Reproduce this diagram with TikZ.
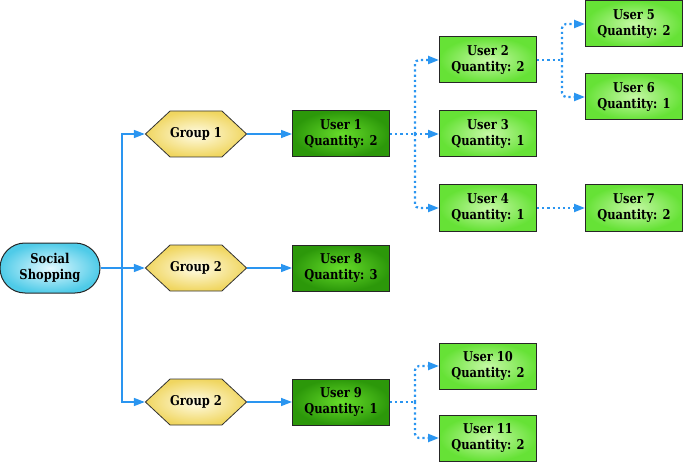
\documentclass[tikz,border=0pt]{standalone}
\usepackage{fontspec}
\setmainfont[FakeStretch=0.85]{DejaVu Serif}
\usetikzlibrary{arrows.meta,shapes.symbols,shapes.misc}
\definecolor{arr}{HTML}{2A95F0}
\definecolor{ssout}{HTML}{4FCBE8}
\definecolor{ssin}{HTML}{E2F9FF}
\definecolor{grout}{HTML}{F0D660}
\definecolor{grin}{HTML}{FFFCE6}
\definecolor{lgout}{HTML}{66E236}
\definecolor{lgin}{HTML}{C6F8A6}
\definecolor{dgout}{HTML}{2C980A}
\definecolor{dgin}{HTML}{66DC2A}
\tikzset{
  x=1pt,y=-1pt,
  lbl/.style={font=\bfseries\fontsize{13.5}{16}\selectfont, align=center, inner sep=0pt},
  ssbox/.style={lbl, rounded rectangle, draw=black!85, line width=1pt, minimum width=100pt, minimum height=50pt, inner color=ssin, outer color=ssout},
  grbox/.style={lbl, signal, signal to=east and west, signal pointer angle=86, draw=black!80, line width=0.8pt, minimum width=98pt, minimum height=46pt, inner color=grin, outer color=grout},
  lgbox/.style={lbl, rectangle, draw=black!85, line width=1pt, minimum width=97pt, minimum height=46pt, inner color=lgin, outer color=lgout},
  dgbox/.style={lbl, rectangle, draw=black!85, line width=1pt, minimum width=97pt, minimum height=46pt, inner color=dgin, outer color=dgout},
  solidarrow/.style={draw=arr, line width=1.5pt, -{Triangle[length=11pt,width=8pt]}},
  solidline/.style={draw=arr, line width=1.5pt},
  dotline/.style={draw=arr, line width=2.2pt, dash pattern=on 2.2pt off 3pt, rounded corners=4pt},
  dotarrow/.style={dotline, -{Triangle[length=11pt,width=8pt]}},
}
\begin{document}
\begin{tikzpicture}
\useasboundingbox (0,0) rectangle (685,465);
\node[ssbox] (ss) at (50,268) {Social\\Shopping};
\node[grbox] (g1) at (196,134) {Group 1};
\node[grbox] (g2) at (196,268) {Group 2};
\node[grbox] (g3) at (196,402) {Group 2};
\node[dgbox] (u1) at (341,134) {User 1\\Quantity: 2};
\node[dgbox] (u8) at (341,268) {User 8\\Quantity: 3};
\node[dgbox] (u9) at (341,402) {User 9\\Quantity: 1};
\node[lgbox] (u2) at (488,60) {User 2\\Quantity: 2};
\node[lgbox] (u3) at (488,134) {User 3\\Quantity: 1};
\node[lgbox] (u4) at (488,208) {User 4\\Quantity: 1};
\node[lgbox] (u10) at (488,366) {User 10\\Quantity: 2};
\node[lgbox] (u11) at (488,438) {User 11\\Quantity: 2};
\node[lgbox] (u5) at (634,24) {User 5\\Quantity: 2};
\node[lgbox] (u6) at (634,97) {User 6\\Quantity: 1};
\node[lgbox] (u7) at (634,208) {User 7\\Quantity: 2};
% junctions
\coordinate (j0) at (122,268);
\coordinate (ja) at (415,134);
\coordinate (jb) at (415,402);
\coordinate (jc) at (562,60);
% solid connectors
\draw[solidline] (ss.east) -- (j0);
\draw[solidarrow] (j0) |- (g1.west);
\draw[solidarrow] (j0) -- (g2.west);
\draw[solidarrow] (j0) |- (g3.west);
\draw[solidarrow] (g1.east) -- (u1.west);
\draw[solidarrow] (g2.east) -- (u8.west);
\draw[solidarrow] (g3.east) -- (u9.west);
% dotted connectors
\draw[dotline] (u1.east) -- (ja);
\draw[dotarrow] (ja) |- (u2.west);
\draw[dotarrow] (ja) -- (u3.west);
\draw[dotarrow] (ja) |- (u4.west);
\draw[dotline] (u2.east) -- (jc);
\draw[dotarrow] (jc) |- (u5.west);
\draw[dotarrow] (jc) |- (u6.west);
\draw[dotarrow] (u4.east) -- (u7.west);
\draw[dotline] (u9.east) -- (jb);
\draw[dotarrow] (jb) |- (u10.west);
\draw[dotarrow] (jb) |- (u11.west);
\end{tikzpicture}
\end{document}
